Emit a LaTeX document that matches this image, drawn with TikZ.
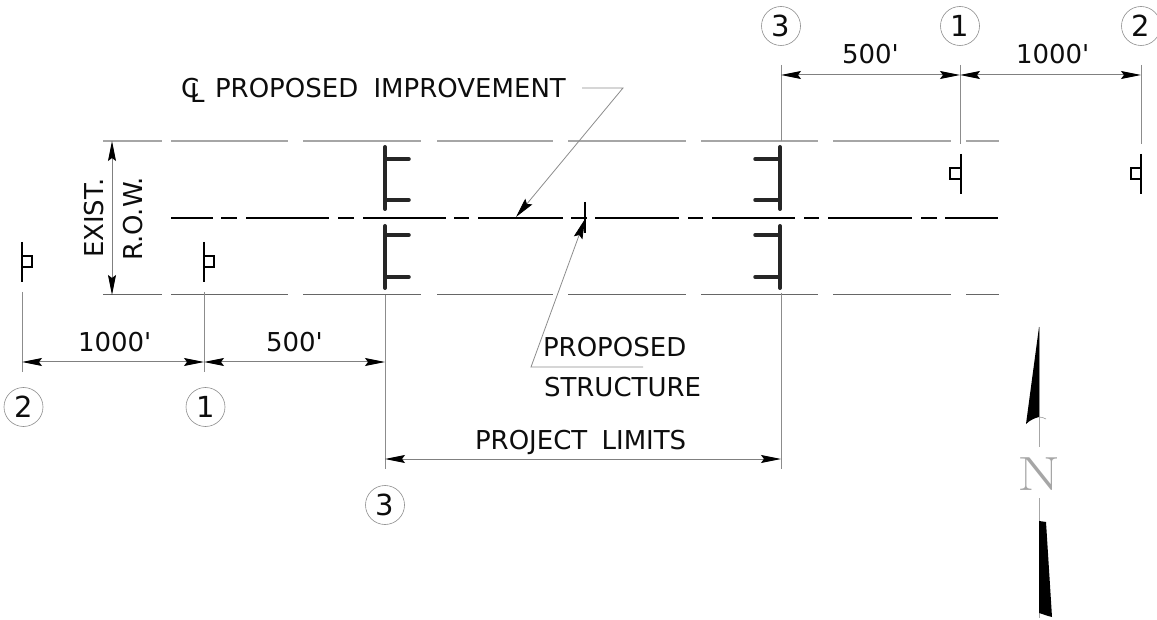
\documentclass[tikz,border=0pt]{standalone}
\usepackage{fontspec}
\usetikzlibrary{arrows.meta}
\newfontfamily\djvsans{DejaVu Sans}
\tikzset{
  x=1pt,y=-1pt,
  txt/.style={inner sep=0pt,outer sep=0pt,font=\djvsans\fontsize{26}{30}\selectfont,text=black!95,anchor=base west},
  thin line/.style={line width=0.9pt,draw=black!45},
  row line/.style={line width=1pt,draw=black!50},
  cline/.style={line width=1.3pt,draw=black},
  rail/.style={line width=4pt,draw=black!85,line cap=round},
  sign/.style={line width=1.4pt,draw=black},
  dim/.style={line width=1pt,draw=black!50,{Stealth[length=20pt,width=8pt,inset=3pt,black]}-{Stealth[length=20pt,width=8pt,inset=3pt,black]}},
  lead/.style={line width=0.8pt,draw=black!45,-{Stealth[length=20pt,width=9pt,inset=3pt,black]}},
  bub/.style={circle,draw=black!45,line width=0.6pt,minimum size=39pt,inner sep=0pt,font=\djvsans\fontsize{29}{30}\selectfont,text=black!95},
}
\begin{document}
\begin{tikzpicture}
\useasboundingbox (0,0) rectangle (1157,620);
% right of way lines
\foreach \a/\b in {103/162,171/288,303/421,437/553,568/686,701/818,833/951,966/999}{
  \draw[row line,line width=1.2pt,black!35] (\a,141) -- (\b,141);
  \draw[row line,black!60] (\a,295) -- (\b,295);
}
% centre line
\foreach \a/\b in {171/213,221/237,246/329,338/354,363/446,454/469,478/563,571/587,595/679,688/703,712/795,804/819,828/912,921/937,945/998}{
  \draw[cline] (\a,218) -- (\b,218);
}
% rails
\foreach \X/\D in {385/409,780/755}{
  \draw[rail] (\X,147) -- (\X,209);
  \draw[rail] (\X,226) -- (\X,288);
  \foreach \Y in {159,200,235,277}{
    \draw[rail,line width=3.5pt] (\X,\Y) -- (\D,\Y);
  }
}
% signs
\foreach \X/\D/\A in {22/32/242,204/214/242,961/950/154,1141/1131/154}{
  \draw[sign] (\X,\A) -- (\X,\A+40);
  \draw[sign,line width=1.1pt] (\X,\A+14) -- (\D,\A+14) -- (\D,\A+25) -- (\X,\A+25);
}
\draw[sign,line width=2pt] (585,202) -- (585,233);
% extension lines
\coordinate (e2a) at (22,292);   \coordinate (e2b) at (22,372);
\coordinate (e1a) at (204,292);  \coordinate (e1b) at (204,372);
\coordinate (e3a) at (385,295);  \coordinate (e3b) at (385,469);
\coordinate (e4a) at (781,293);  \coordinate (e4b) at (781,469);
\coordinate (e5a) at (781,65);   \coordinate (e5b) at (781,141);
\coordinate (e6a) at (960,65);   \coordinate (e6b) at (960,144);
\coordinate (e7a) at (1141,65);  \coordinate (e7b) at (1141,144);
\foreach \p/\q in {e2a/e2b,e1a/e1b,e3a/e3b,e4a/e4b,e5a/e5b,e6a/e6b,e7a/e7b}{
  \draw[thin line] (\p) -- (\q);
}
% dimensions
\coordinate (d1) at (22,362);  \coordinate (d2) at (204,362);  \coordinate (d3) at (385,362);
\coordinate (u1) at (781,75);  \coordinate (u2) at (960,75);   \coordinate (u3) at (1141,75);
\coordinate (p1) at (385,459); \coordinate (p2) at (781,459);
\coordinate (r1) at (112,141); \coordinate (r2) at (112,295);
\draw[dim] (d1) -- (d2);
\draw[dim] (d2) -- (d3);
\draw[dim] (u1) -- (u2);
\draw[dim] (u2) -- (u3);
\draw[dim] (p1) -- (p2);
\draw[dim] (r1) -- (r2);
% bubbles
\node[bub] (b2l) at (23.5,407) {2};
\node[bub] (b1l) at (205.5,407) {1};
\node[bub] (b3b) at (385,505) {3};
\node[bub] (b3t) at (781,26) {3};
\node[bub] (b1t) at (960,26) {1};
\node[bub] (b2t) at (1141,26) {2};
% labels
\node[txt] (t1000l) at (78,352) {1000'};
\node[txt] (t500l) at (266,352) {500'};
\node[txt] (t500u) at (842,64) {500'};
\node[txt] (t1000u) at (1016,64) {1000'};
\node[txt,rotate=90] (texist) at (103,258) {EXIST.};
\node[txt,rotate=90] (trow) at (142,261) {R.O.W.};
\node[txt] (tcl) at (181,98) {C\kern-9pt\raisebox{-5pt}{L}};
\node[txt] (timp) at (215,98) {PROPOSED\kern7pt\ IMPROVEMENT};
\node[txt] (tps) at (543,357) {PROPOSED};
\node[txt] (tst) at (544,396) {STRUCTURE};
\node[txt] (tlim) at (475,449) {PROJECT\kern6pt\ LIMITS};
% leaders
\coordinate (l1) at (582,88); \coordinate (l2) at (623,88); \coordinate (l3) at (516,217);
\draw[lead] (l1) -- (l2) -- (l3);
\coordinate (m1) at (643,367); \coordinate (m2) at (531,367); \coordinate (m3) at (585,219);
\draw[lead] (m1) -- (m2) -- (m3);
% north arrow
\draw[line width=1pt,draw=black!35] (1039,327) -- (1039,447);
\draw[line width=1pt,draw=black!35] (1039,498) -- (1039,618);
\fill[black] (1039,327) -- (1026,424) .. controls (1030,420) and (1035,418) .. (1039,417) -- cycle;
\draw[line width=0.6pt,draw=black!40] (1039,417) .. controls (1042,417) and (1044,418) .. (1046,419);
\fill[black] (1039,521) -- (1046,522) -- (1052,617) .. controls (1047,616) and (1043,614) .. (1039,613) -- cycle;
\node[inner sep=0pt,text=black!35,anchor=base] (north) at (1039,490) {\scalebox{1.3}[1]{\fontsize{48}{50}\selectfont N}};
\end{tikzpicture}
\end{document}
